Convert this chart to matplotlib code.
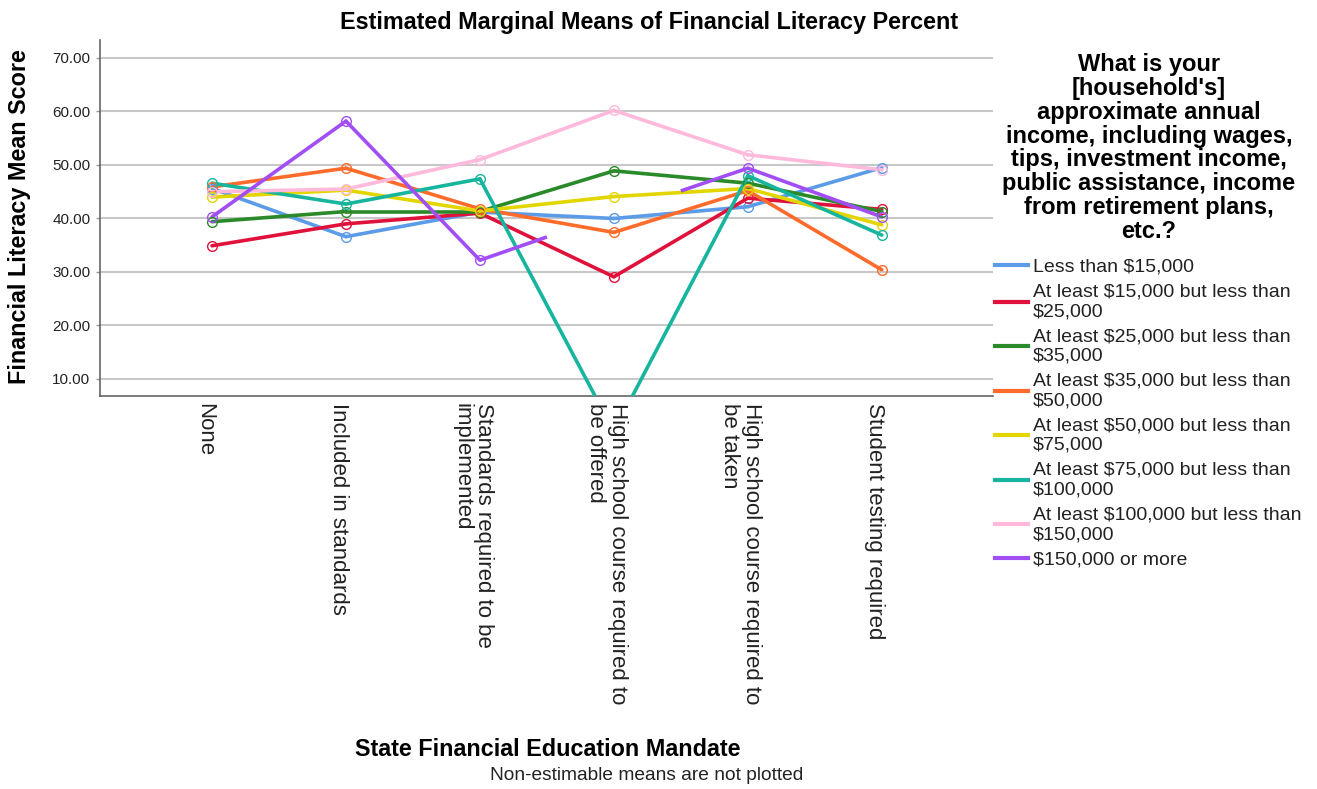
import numpy as np
import matplotlib
matplotlib.use("Agg")
import matplotlib.pyplot as plt
import matplotlib.transforms as mtransforms

plt.rcParams['font.family'] = ['Liberation Sans', 'DejaVu Sans']

# ---------------- data ----------------
categories = [
    "None",
    "Included in standards",
    "Standards required to be\nimplemented",
    "High school course required to\nbe offered",
    "High school course required to\nbe taken",
    "Student testing required",
]

series_labels = [
    "Less than $15,000",
    "At least $15,000 but less than\n$25,000",
    "At least $25,000 but less than\n$35,000",
    "At least $35,000 but less than\n$50,000",
    "At least $50,000 but less than\n$75,000",
    "At least $75,000 but less than\n$100,000",
    "At least $100,000 but less than\n$150,000",
    "$150,000 or more",
]

less_15k = [45.6, 36.6, 41.2, 40.0, 42.2, 49.5]
k15_25 = [34.9, 39.0, 41.0, 29.1, 43.8, 41.7]
k25_35 = [39.4, 41.3, 41.3, 48.9, 46.6, 41.3]
k35_50 = [45.9, 49.4, 41.8, 37.4, 45.2, 30.4]
k50_75 = [44.0, 45.3, 41.4, 44.1, 45.6, 38.8]
k75_100 = [46.6, 42.7, 47.4, 0.2, 48.0, 36.9]
k100_150 = [45.0, 45.5, 51.0, 60.2, 51.9, 49.1]
k150_plus = [40.3, 58.2, 32.2, 40.9, 49.4, 40.3]

# which means are estimable (non-estimable means are not plotted)
k150_plus_estimable = [True, True, True, False, True, True]

colors = ["#5B9BE8", "#E0123C", "#2A8A2A", "#FF6B2B",
          "#E3D600", "#17B59E", "#FFB9DB", "#A24EF5"]

all_series = [less_15k, k15_25, k25_35, k35_50, k50_75, k75_100, k100_150, k150_plus]
all_estimable = [[True] * 6] * 7 + [k150_plus_estimable]

# ---------------- figure ----------------
W, H = 1317, 789
fig = plt.figure(figsize=(W / 100, H / 100), dpi=100)
ax = fig.add_axes([100 / W, 1 - 396 / H, (993 - 100) / W, (396 - 40) / H])

LW = 2.6
x = np.arange(len(categories))
for vals, est, col, lab in zip(all_series, all_estimable, colors, series_labels):
    v = np.array(vals, dtype=float)
    e = np.array(est)
    for i in range(len(v) - 1):
        if e[i] and e[i + 1]:
            ax.plot(x[i:i + 2], v[i:i + 2], color=col, lw=LW, solid_capstyle='round', zorder=3)
        elif e[i] and not e[i + 1]:
            ax.plot([x[i], (x[i] + x[i + 1]) / 2], [v[i], (v[i] + v[i + 1]) / 2],
                    color=col, lw=LW, solid_capstyle='butt', zorder=3)
        elif e[i + 1] and not e[i]:
            ax.plot([(x[i] + x[i + 1]) / 2, x[i + 1]], [(v[i] + v[i + 1]) / 2, v[i + 1]],
                    color=col, lw=LW, solid_capstyle='butt', zorder=3)
    ax.plot(x[e], v[e], linestyle='none', marker='o', markersize=7,
            markerfacecolor='none', markeredgecolor=col, markeredgewidth=1.0, zorder=4)
    ax.plot([], [], color=col, lw=3.0, label=lab)

ax.set_xlim(-0.836, 5.83)
ax.set_ylim(6.82, 73.36)
ax.set_yticks([10, 20, 30, 40, 50, 60, 70])
ax.set_yticklabels([f"{t:.2f}" for t in [10, 20, 30, 40, 50, 60, 70]], fontsize=11, color='#222222')
ax.tick_params(axis='x', length=0, pad=5)
ax.tick_params(axis='y', length=3, width=1, color='#999999', pad=4)
ax.set_xticks(x)
ax.set_xticklabels(categories, rotation=-90, fontsize=16, va='top', ha='center',
                   multialignment='left', linespacing=1.05, color='#222222')
offset = mtransforms.ScaledTranslation(-7 / 100, 0, fig.dpi_scale_trans)
for lbl in ax.get_xticklabels():
    lbl.set_transform(lbl.get_transform() + offset)

ax.yaxis.grid(True, color='#C8C8C8', lw=1.5, zorder=0)
ax.set_axisbelow(True)
for s in ['top', 'right']:
    ax.spines[s].set_visible(False)
for s in ['left', 'bottom']:
    ax.spines[s].set_color('#666666')
    ax.spines[s].set_linewidth(1.2)

# titles
fig.text(649 / W, 1 - 22 / H, "Estimated Marginal Means of Financial Literacy Percent",
         ha='center', va='center', fontsize=16.8, fontweight='bold')
fig.text(20 / W, 1 - 217 / H, "Financial Literacy Mean Score", rotation=90,
         ha='center', va='center', fontsize=16.8, fontweight='bold')
fig.text(548 / W, 1 - 749 / H, "State Financial Education Mandate",
         ha='center', va='center', fontsize=16.8, fontweight='bold')
fig.text(647 / W, 1 - 775 / H, "Non-estimable means are not plotted",
         ha='center', va='center', fontsize=13.8, color='#222222')

legend_title = ("What is your\n[household's]\napproximate annual\nincome, including wages,\n"
                "tips, investment income,\npublic assistance, income\nfrom retirement plans,\netc.?")
fig.text(1149 / W, 1 - 148 / H, legend_title, ha='center', va='center', multialignment='center',
         fontsize=17, fontweight='bold', linespacing=1.04)

leg = fig.legend(loc='upper left', bbox_to_anchor=(995 / W, 1 - 258 / H), frameon=False,
                 fontsize=14, handlelength=1.7, handletextpad=0.25, labelspacing=0.41,
                 borderpad=0, borderaxespad=0)
for t in leg.get_texts():
    t.set_linespacing(1.2)
    t.set_color('#222222')

fig.savefig("out.png", dpi=100)
